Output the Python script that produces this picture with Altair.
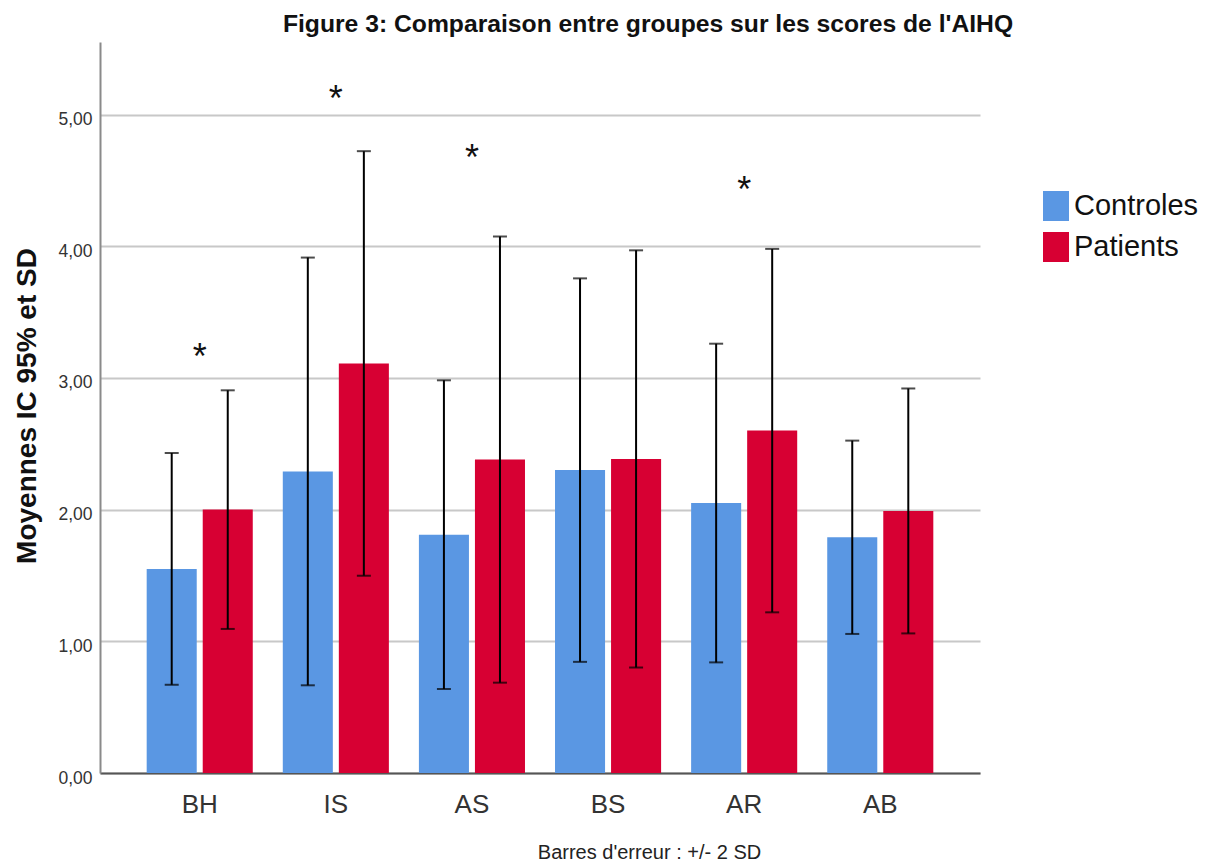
import altair as alt
import pandas as pd

# AIHQ subscales and groups
categories = ["BH", "IS", "AS", "BS", "AR", "AB"]
groups = ["Controles", "Patients"]

# Group means and standard deviations per subscale
controles_mean = [1.55, 2.29, 1.81, 2.30, 2.05, 1.79]
controles_sd = [0.44, 0.812, 0.586, 0.728, 0.605, 0.367]
patients_mean = [2.00, 3.11, 2.38, 2.385, 2.60, 1.99]
patients_sd = [0.453, 0.806, 0.847, 0.792, 0.69, 0.465]

# Subscales with a significant group difference, and the height of the marker
signif_cats = ["BH", "IS", "AS", "AR"]
signif_y = [3.22, 5.18, 4.73, 4.49]

BLUE = "#5A97E3"
RED = "#D70033"
SANS = "Liberation Sans, Arial, sans-serif"

rows = []
for grp, means, sds in [("Controles", controles_mean, controles_sd),
                        ("Patients", patients_mean, patients_sd)]:
    for cat, m, s in zip(categories, means, sds):
        rows.append({"cat": cat, "groupe": grp, "moyenne": m,
                     "bas": m - 2 * s, "haut": m + 2 * s})
df = pd.DataFrame(rows)
stars = pd.DataFrame({"cat": signif_cats, "y": signif_y})

x_enc = alt.X(
    "cat:N",
    sort=categories,
    scale=alt.Scale(paddingInner=0.2206, paddingOuter=0.343),
    axis=alt.Axis(
        title="Barres d'erreur :  +/- 2 SD",
        labelAngle=0,
        labelFont=SANS,
        labelFontSize=26,
        labelColor="#333333",
        labelPadding=39,
        labelBaseline="alphabetic",
        ticks=False,
        tickSize=0,
        grid=False,
        domainColor="#555555",
        domainWidth=2,
        titleFont=SANS,
        titleFontSize=20,
        titleFontWeight="normal",
        titleColor="#222222",
        titleX=549,
        titleY=85.6,
        titleBaseline="alphabetic",
        titleAlign="center",
    ),
)
xoff_enc = alt.XOffset("groupe:N", sort=groups,
                       scale=alt.Scale(paddingInner=0.107, paddingOuter=0))

y_axis = alt.Axis(
    title="Moyennes IC 95% et SD",
    values=[0, 1, 2, 3, 4, 5],
    labelExpr="replace(format(datum.value, '.2f'), '.', ',')",
    labelFont=SANS,
    labelFontSize=17.5,
    labelColor="#333333",
    labelPadding=8,
    labelBaseline="alphabetic",
    labelOffset=10,
    ticks=False,
    tickSize=0,
    grid=True,
    gridColor="#c8c8c8",
    gridWidth=2,
    domainColor="#8a8a8a",
    domainWidth=2,
    titleFont=SANS,
    titleFontSize=28,
    titleFontWeight="bold",
    titleColor="#111111",
    titleAngle=-90,
    titleX=-65,
    titleY=363.5,
    titleAlign="center",
    titleBaseline="alphabetic",
)
y_scale = alt.Scale(domain=[0, 5.551], nice=False, zero=True)

bars = alt.Chart(df).mark_bar().encode(
    x=x_enc,
    xOffset=xoff_enc,
    y=alt.Y("moyenne:Q", scale=y_scale, axis=y_axis),
    color=alt.Color(
        "groupe:N",
        scale=alt.Scale(domain=groups, range=[BLUE, RED]),
        legend=alt.Legend(
            title=None,
            orient="none",
            legendX=941,
            legendY=149,
            symbolType="M-0.867,-1H0.867V1H-0.867Z",
            symbolSize=900,
            symbolStrokeWidth=0,
            labelFont=SANS,
            labelFontSize=29,
            labelColor="#111111",
            labelOffset=3,
            rowPadding=11,
        ),
    ),
)

errs = alt.Chart(df).mark_rule(color="black", strokeWidth=2).encode(
    x=x_enc,
    xOffset=xoff_enc,
    y=alt.Y("bas:Q", scale=y_scale, axis=y_axis),
    y2="haut:Q",
)

cap_hi = alt.Chart(df).mark_tick(color="black", thickness=2, size=14,
                                 orient="horizontal").encode(
    x=x_enc,
    xOffset=xoff_enc,
    y=alt.Y("haut:Q", scale=y_scale, axis=y_axis),
)

cap_lo = alt.Chart(df).mark_tick(color="black", thickness=2, size=14,
                                 orient="horizontal").encode(
    x=x_enc,
    xOffset=xoff_enc,
    y=alt.Y("bas:Q", scale=y_scale, axis=y_axis),
)

star_marks = alt.Chart(stars).mark_text(
    text="*", font=SANS, fontSize=36, color="#111111",
    baseline="alphabetic", dy=20,
).encode(
    x=x_enc,
    y=alt.Y("y:Q", scale=y_scale, axis=y_axis),
)

chart = alt.layer(bars, errs, cap_hi, cap_lo, star_marks).properties(
    width=880,
    height=731,
    padding={"left": 100, "top": 42, "right": 231, "bottom": 90},
    autosize=alt.AutoSizeParams(type="none"),
    title=alt.TitleParams(
        "Figure 3: Comparaison entre groupes sur les scores de l'AIHQ",
        font=SANS,
        fontSize=24.7,
        fontWeight="bold",
        color="#111111",
        anchor="middle",
        dx=108,
        dy=25,
        offset=10,
        baseline="alphabetic",
    ),
).configure(background="white").configure_view(stroke=None)

chart.save("out.html", embed_options={"renderer": "svg", "actions": False})
